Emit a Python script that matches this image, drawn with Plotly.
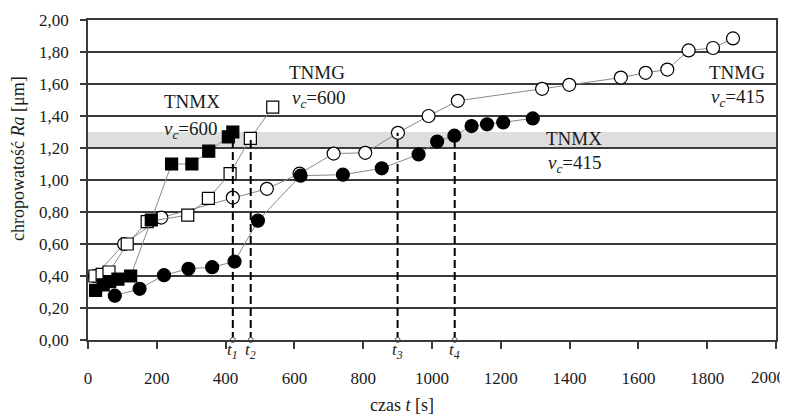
import plotly.graph_objects as go

FONT = "Liberation Serif, Times New Roman, serif"

# TNMX, vc=600 (filled squares)
tnmx600_t = [22, 44, 63, 87, 124, 184, 243, 302, 351, 408, 421]
tnmx600_ra = [0.31, 0.345, 0.365, 0.38, 0.40, 0.75, 1.10, 1.10, 1.18, 1.27, 1.30]

# TNMG, vc=600 (open squares)
tnmg600_t = [20, 41, 61, 114, 172, 290, 350, 413, 472, 537]
tnmg600_ra = [0.40, 0.41, 0.425, 0.60, 0.74, 0.78, 0.885, 1.04, 1.26, 1.455]

# TNMG, vc=415 (open circles)
tnmg415_t = [20, 105, 213, 421, 520, 615, 714, 806, 901, 990, 1075, 1320, 1399, 1549, 1621, 1684, 1746, 1817, 1875]
tnmg415_ra = [0.40, 0.60, 0.765, 0.89, 0.945, 1.04, 1.165, 1.17, 1.295, 1.40, 1.495, 1.57, 1.595, 1.64, 1.67, 1.69, 1.81, 1.825, 1.885]

# TNMX, vc=415 (filled circles)
tnmx415_t = [78, 150, 221, 292, 361, 426, 494, 618, 741, 854, 961, 1015, 1065, 1115, 1160, 1207, 1293]
tnmx415_ra = [0.277, 0.32, 0.405, 0.445, 0.455, 0.49, 0.746, 1.027, 1.033, 1.073, 1.16, 1.24, 1.277, 1.337, 1.348, 1.36, 1.385]

# tool life markers
mark_t = [421, 473, 900, 1066]
mark_ra = [1.27, 1.25, 1.295, 1.277]
mark_labels = ["t<sub>1</sub>", "t<sub>2</sub>", "t<sub>3</sub>", "t<sub>4</sub>"]

band = [1.2, 1.3]

x_ticks = [0, 200, 400, 600, 800, 1000, 1200, 1400, 1600, 1800, 2000]
y_ticks = [0.0, 0.2, 0.4, 0.6, 0.8, 1.0, 1.2, 1.4, 1.6, 1.8, 2.0]
y_ticktext = ["0,00", "0,20", "0,40", "0,60", "0,80", "1,00", "1,20", "1,40", "1,60", "1,80", "2,00"]

x_title = "czas <i>t</i> [s]"
y_title = "chropowatość <i>Ra</i> [μm]"

fig = go.Figure()

line_style = dict(color="#8a8a8a", width=1)

def add_series(t, ra, symbol, fill):
    fig.add_trace(go.Scatter(
        x=t, y=ra, mode="lines+markers", line=line_style,
        marker=dict(symbol=symbol, size=13 if symbol == "circle" else 12,
                    color=fill, line=dict(color="black", width=1.2)),
        showlegend=False, cliponaxis=False))

add_series(tnmg415_t, tnmg415_ra, "circle", "white")
add_series(tnmx415_t, tnmx415_ra, "circle", "black")
add_series(tnmg600_t, tnmg600_ra, "square", "white")
add_series(tnmx600_t, tnmx600_ra, "square", "black")

# dashed vertical lines
for t, r in zip(mark_t, mark_ra):
    fig.add_trace(go.Scatter(x=[t, t], y=[0, r], mode="lines",
                             line=dict(color="black", width=2, dash="8px,4px"),
                             showlegend=False, hoverinfo="skip"))
fig.add_trace(go.Scatter(x=mark_t, y=[0] * len(mark_t), mode="markers",
                         marker=dict(symbol="circle", size=5, color="white",
                                     line=dict(color="#555", width=1)),
                         showlegend=False, cliponaxis=False))

fig.add_shape(type="rect", xref="x", yref="y", x0=0, x1=2000, y0=band[0], y1=band[1],
              fillcolor="#dedede", line=dict(width=0), layer="below")

for t, lab in zip(mark_t, mark_labels):
    fig.add_annotation(x=t, y=0, yshift=-11, text="<i>" + lab + "</i>", showarrow=False,
                       font=dict(family=FONT, size=17, color="#222"))

def label(x, y, txt, xanchor="center", xshift=0):
    fig.add_annotation(x=x, y=y, text=txt, showarrow=False, xanchor=xanchor, xshift=xshift,
                       font=dict(family=FONT, size=19, color="#1a1a1a"))

label(301, 1.49, "TNMX")
label(300, 1.31, "<i>v<sub>c</sub></i>=600")
label(665, 1.67, "TNMG")
label(672, 1.505, "<i>v<sub>c</sub></i>=600")
label(1412, 1.26, "TNMX")
label(1417, 1.10, "<i>v<sub>c</sub></i>=415")
label(2000, 1.67, "TNMG", "right", xshift=-9)
label(2000, 1.51, "<i>v<sub>c</sub></i>=415", "right", xshift=-9)

# axis titles
fig.add_annotation(xref="paper", yref="paper", x=0.456, y=0, yshift=-65, text=x_title,
                   xanchor="center", yanchor="middle",
                   showarrow=False, font=dict(family=FONT, size=18, color="#1a1a1a"))
fig.add_annotation(xref="paper", yref="paper", x=0, y=0.566, xshift=-70, text=y_title,
                   xanchor="center", yanchor="middle",
                   textangle=-90, showarrow=False, font=dict(family=FONT, size=18, color="#1a1a1a"))

# last x tick label sits slightly left of its tick in the reference: draw it as an annotation
x_ticktext = [str(v) for v in x_ticks]
last_label = x_ticktext[-1]
x_ticktext[-1] = ""
fig.add_annotation(x=x_ticks[-1], y=0, yshift=-37, xshift=-8, text=last_label,
                   xanchor="center", yanchor="middle", showarrow=False,
                   font=dict(family=FONT, size=17, color="#1a1a1a"))

fig.update_layout(
    width=780, height=407,
    margin=dict(l=80, r=12, t=12, b=75, autoexpand=False),
    paper_bgcolor="white", plot_bgcolor="white",
    font=dict(family=FONT, size=16, color="#1a1a1a"),
)
fig.update_xaxes(
    range=[0, 2000], tickvals=x_ticks, ticktext=x_ticktext,
    showgrid=False, zeroline=False, showline=True, linecolor="#3a3a3a", linewidth=1.5,
    mirror=True, ticks="outside", ticklen=7, tickcolor="#3a3a3a", tickwidth=1.5,
    ticklabelstandoff=15, ticklabeloverflow="allow", automargin=False,
    tickfont=dict(family=FONT, size=17, color="#1a1a1a"),
)
fig.update_yaxes(
    range=[0, 2], tickvals=y_ticks, ticktext=y_ticktext,
    showgrid=True, gridcolor="#3a3a3a", gridwidth=1.5, zeroline=False,
    showline=True, linecolor="#3a3a3a", linewidth=1.5, mirror=True,
    ticks="outside", ticklen=6, tickcolor="#3a3a3a", tickwidth=1.5,
    ticklabelstandoff=8, automargin=False,
    tickfont=dict(family=FONT, size=17, color="#1a1a1a"),
)

fig.write_html("out.html")
